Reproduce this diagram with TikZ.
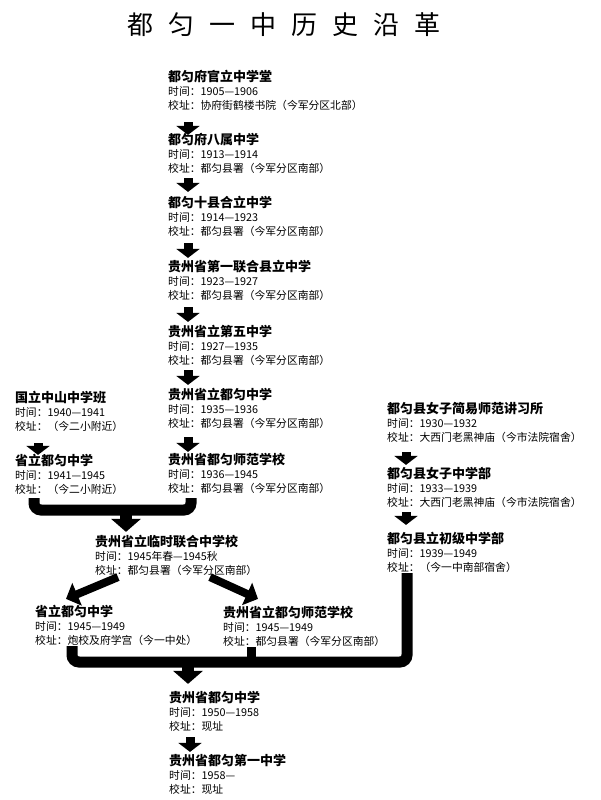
\documentclass[tikz,border=0pt]{standalone}
\usepackage{fontspec}
\setmainfont{Noto Sans CJK SC}
\usetikzlibrary{arrows.meta}
\tikzset{
 hd/.style={anchor=base west, inner sep=0pt, font=\fontsize{13}{15}\selectfont\bfseries},
 bd/.style={anchor=base west, inner sep=0pt, font=\fontsize{10.8}{13}\selectfont},
 blk/.style={line width=9pt, -{Triangle[width=23pt,length=9pt]}},
 bigblk/.style={line width=12pt, -{Triangle[width=29pt,length=13pt]}},
 diag/.style={line width=8pt, -{Triangle[width=24pt,length=12pt]}},
 bar/.style={line width=11pt, rounded corners=7pt},
 ttl/.style={inner sep=0pt, font=\fontsize{26}{26}\selectfont},
}
\newcommand\schoolblk[6]{%
 \node[hd] (#1) at (#2,#3+4.9) {#4};
 \node[bd] (#1-t) at (#2,#3+18.1) {时间：#5};
 \node[bd] (#1-a) at (#2,#3+32.1) {校址：#6};}
\newcommand\tsp{\hspace{15pt}}
\begin{document}
\begin{tikzpicture}[x=1pt,y=-1pt]
\useasboundingbox (0,0) rectangle (600,800);
\node[ttl] (title) at (284,25) {都\tsp 匀\tsp 一\tsp 中\tsp 历\tsp 史\tsp 沿\tsp 革};
% main column
\schoolblk{A1}{168}{77}{都匀府官立中学堂}{1905—1906}{协府街鹤楼书院（今军分区北部）}
\schoolblk{A2}{168}{140}{都匀府八属中学}{1913—1914}{都匀县署（今军分区南部）}
\schoolblk{A3}{168}{203}{都匀十县合立中学}{1914—1923}{都匀县署（今军分区南部）}
\schoolblk{A4}{168}{267}{贵州省第一联合县立中学}{1923—1927}{都匀县署（今军分区南部）}
\schoolblk{A5}{168}{332}{贵州省立第五中学}{1927—1935}{都匀县署（今军分区南部）}
\schoolblk{A6}{168}{395}{贵州省立都匀中学}{1935—1936}{都匀县署（今军分区南部）}
\schoolblk{A7}{168}{460}{贵州省都匀师范学校}{1936—1945}{都匀县署（今军分区南部）}
% left column
\schoolblk{L1}{15}{398}{国立中山中学班}{1940—1941}{（今二小附近）}
\schoolblk{L2}{15}{461}{省立都匀中学}{1941—1945}{（今二小附近）}
% right column
\schoolblk{R1}{387}{409}{都匀县女子简易师范讲习所}{1930—1932}{大西门老黑神庙（今市法院宿舍）}
\schoolblk{R2}{387}{474}{都匀县女子中学部}{1933—1939}{大西门老黑神庙（今市法院宿舍）}
\schoolblk{R3}{387}{539}{都匀县立初级中学部}{1939—1949}{（今一中南部宿舍）}
% merged
\schoolblk{M}{95}{542}{贵州省立临时联合中学校}{1945年春—1945秋}{都匀县署（今军分区南部）}
\schoolblk{B1}{35}{612}{省立都匀中学}{1945—1949}{炮校及府学宫（今一中处）}
\schoolblk{B2}{223}{613}{贵州省立都匀师范学校}{1945—1949}{都匀县署（今军分区南部）}
\schoolblk{C1}{169}{698}{贵州省都匀中学}{1950—1958}{现址}
\schoolblk{C2}{169}{761}{贵州省都匀第一中学}{1958—}{现址}
% main arrows
\draw[blk] ([xshift=20pt,yshift=-13pt]A1-a.base west) -- ([xshift=20pt,yshift=10pt]A2.base west);
\draw[blk] ([xshift=20pt,yshift=-6pt]A2-a.base west) -- ([xshift=20pt,yshift=16pt]A3.base west);
\draw[blk] ([xshift=20pt,yshift=-8pt]A3-a.base west) -- ([xshift=20pt,yshift=14pt]A4.base west);
\draw[blk] ([xshift=20pt,yshift=-8pt]A4-a.base west) -- ([xshift=20pt,yshift=15pt]A5.base west);
\draw[blk] ([xshift=20pt,yshift=-6pt]A5-a.base west) -- ([xshift=20pt,yshift=15pt]A6.base west);
\draw[blk] ([xshift=20pt,yshift=-10pt]A6-a.base west) -- ([xshift=20pt,yshift=13pt]A7.base west);
\draw[blk] ([xshift=23pt,yshift=-13pt]L1-a.base west) -- ([xshift=23pt,yshift=11pt]L2.base west);
\draw[blk] ([xshift=19pt,yshift=-11pt]R1-a.base west) -- ([xshift=19pt,yshift=14pt]R2.base west);
\draw[blk] ([xshift=19pt,yshift=-6pt]R2-a.base west) -- ([xshift=19pt,yshift=19pt]R3.base west);
\draw[blk] ([xshift=21pt,yshift=-7pt]C1-a.base west) -- ([xshift=21pt,yshift=14pt]C2.base west);
% first bracket
\coordinate (j1) at (126,510);
\draw[bar] ([xshift=19pt,yshift=-5pt]L2-a.base west) |- (j1) -| ([xshift=23pt,yshift=-6pt]A7-a.base west);
\draw[bigblk] (j1) -- ([xshift=31pt,yshift=15pt]M.base west);
% split
\draw[diag] ([xshift=23pt,yshift=-3pt]M-a.base west) -- ([xshift=31pt,yshift=18pt]B1.base west);
\draw[diag] ([xshift=115pt,yshift=-3pt]M-a.base west) -- ([xshift=35pt,yshift=19pt]B2.base west);
% bottom bracket
\coordinate (j2) at (188,662);
\draw[bar] ([xshift=37pt,yshift=-2pt]B1-a.base west) |- (j2) -| ([xshift=20pt,yshift=-2pt]R3-a.base west);
\draw[line width=9pt] ([xshift=28pt,yshift=-2pt]B2-a.base west) -- ([xshift=28pt]B2-a.base west |- j2);
\draw[bigblk] (j2) -- ([xshift=19pt,yshift=19pt]C1.base west);
\end{tikzpicture}
\end{document}
